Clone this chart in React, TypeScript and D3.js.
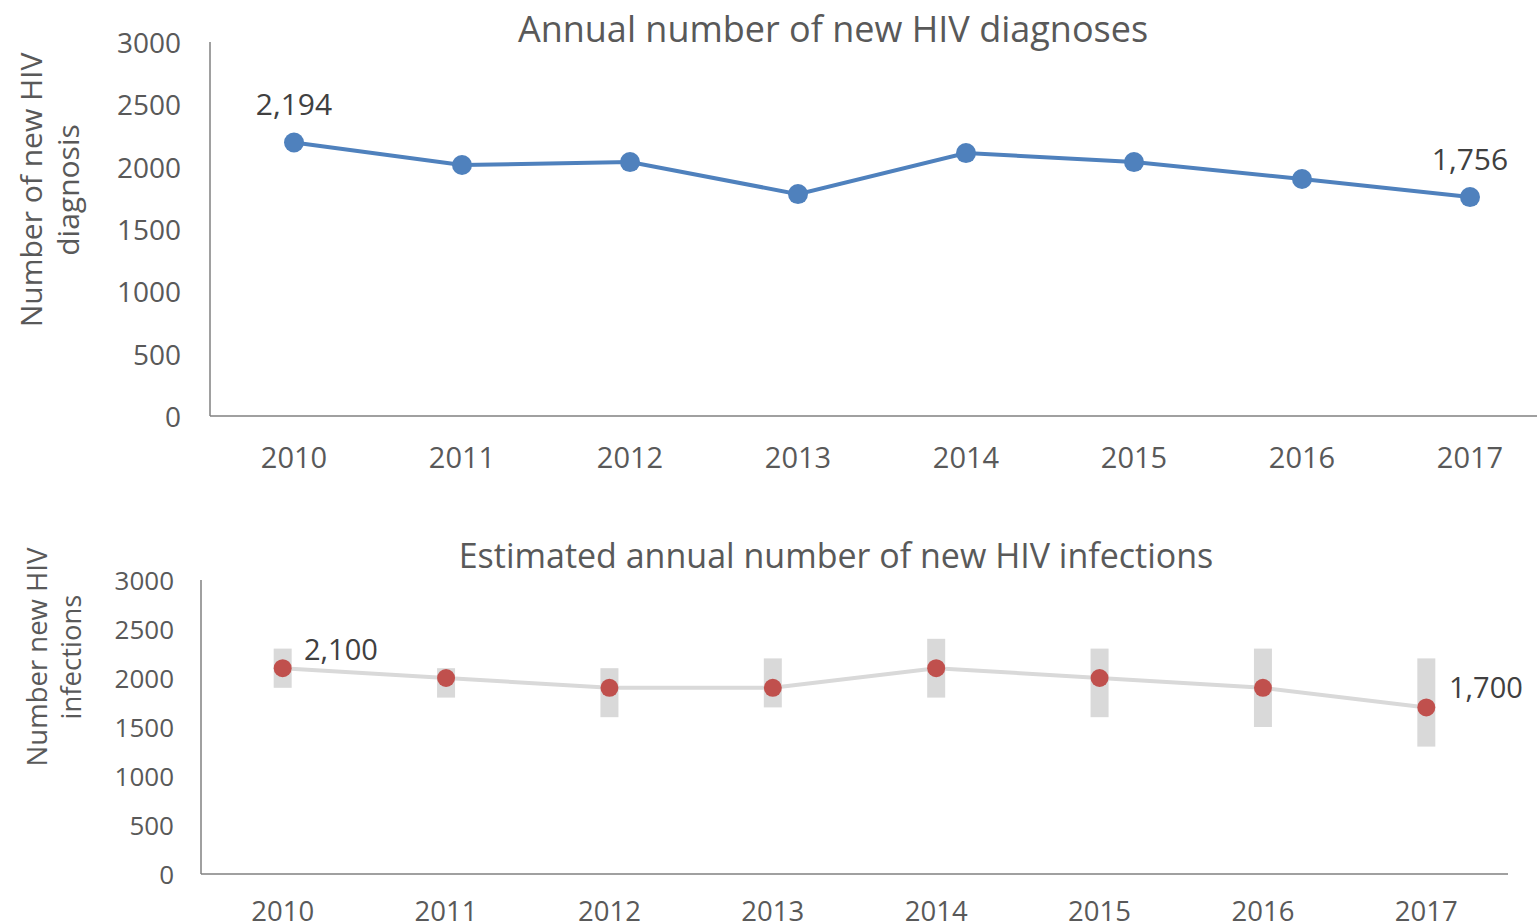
import React from "react";
import * as d3 from "d3";

const years = ["2010", "2011", "2012", "2013", "2014", "2015", "2016", "2017"];
const diagnoses = [2194, 2013, 2037, 1780, 2109, 2037, 1901, 1756];
const infections = [2100, 2000, 1900, 1900, 2100, 2000, 1900, 1700];
const infLow = [1900, 1800, 1600, 1700, 1800, 1600, 1500, 1300];
const infHigh = [2300, 2100, 2100, 2200, 2400, 2300, 2300, 2200];
const yTicks = [0, 500, 1000, 1500, 2000, 2500, 3000];

const FONT = "'Open Sans', 'Noto Sans', sans-serif";
const AXIS = "#595959";
const LABEL = "#404040";

const fmt = d3.format(",");

export default function App() {
  // top chart
  const x1 = d3.scaleBand().domain(years).range([210, 1554]);
  const y1 = d3.scaleLinear().domain([0, 3000]).range([416, 42]);
  const line1 = d3
    .line<number>()
    .x((_, i) => x1(years[i])! + x1.bandwidth() / 2)
    .y((d) => y1(d));

  // bottom chart
  const x2 = d3.scaleBand().domain(years).range([201, 1508]);
  const y2 = d3.scaleLinear().domain([0, 3000]).range([874, 580]);
  const line2 = d3
    .line<number>()
    .x((_, i) => x2(years[i])! + x2.bandwidth() / 2)
    .y((d) => y2(d));

  const cx1 = (i: number) => x1(years[i])! + x1.bandwidth() / 2;
  const cx2 = (i: number) => x2(years[i])! + x2.bandwidth() / 2;

  return (
    <svg
      width={1537}
      height={923}
      style={{ position: "absolute", left: 0, top: 0, background: "#fff" }}
      fontFamily={FONT}
    >
      {/* ===== Top chart ===== */}
      <text x={833} y={28} textAnchor="middle" dominantBaseline="central" fontSize={36} fill={AXIS}>
        Annual number of new HIV diagnoses
      </text>
      <g transform="translate(30,190) rotate(-90)">
        <text textAnchor="middle" dominantBaseline="central" fontSize={30} fill={AXIS}>
          Number of new HIV
        </text>
      </g>
      <g transform="translate(67,190) rotate(-90)">
        <text textAnchor="middle" dominantBaseline="central" fontSize={30} fill={AXIS}>
          diagnosis
        </text>
      </g>
      {yTicks.map((t) => (
        <text key={"t1" + t} x={181} y={y1(t)} textAnchor="end" dominantBaseline="central" fontSize={28} fill={AXIS}>
          {t}
        </text>
      ))}
      <line x1={210} x2={210} y1={42} y2={416} stroke="#808080" strokeWidth={1.5} />
      <line x1={210} x2={1537} y1={416} y2={416} stroke="#808080" strokeWidth={1.5} />
      {years.map((yr, i) => (
        <text key={"x1" + yr} x={cx1(i)} y={456} textAnchor="middle" dominantBaseline="central" fontSize={29} fill={AXIS}>
          {yr}
        </text>
      ))}
      <path d={line1(diagnoses)!} fill="none" stroke="#4F81BD" strokeWidth={4} />
      {diagnoses.map((v, i) => (
        <circle key={"c1" + i} cx={cx1(i)} cy={y1(v)} r={10} fill="#4F81BD" />
      ))}
      <text x={cx1(0)} y={y1(diagnoses[0]) - 39} textAnchor="middle" dominantBaseline="central" fontSize={30} fill={LABEL}>
        {fmt(diagnoses[0])}
      </text>
      <text x={cx1(7)} y={y1(diagnoses[7]) - 39} textAnchor="middle" dominantBaseline="central" fontSize={30} fill={LABEL}>
        {fmt(diagnoses[7])}
      </text>

      {/* ===== Bottom chart ===== */}
      <text x={836} y={555} textAnchor="middle" dominantBaseline="central" fontSize={34} fill={AXIS}>
        Estimated annual number of new HIV infections
      </text>
      <g transform="translate(36,657) rotate(-90)">
        <text textAnchor="middle" dominantBaseline="central" fontSize={27.5} fill={AXIS}>
          Number new HIV
        </text>
      </g>
      <g transform="translate(70,657) rotate(-90)">
        <text textAnchor="middle" dominantBaseline="central" fontSize={27.5} fill={AXIS}>
          infections
        </text>
      </g>
      {yTicks.map((t) => (
        <text key={"t2" + t} x={174} y={y2(t)} textAnchor="end" dominantBaseline="central" fontSize={26} fill={AXIS}>
          {t}
        </text>
      ))}
      <line x1={201} x2={201} y1={580} y2={874} stroke="#808080" strokeWidth={1.5} />
      <line x1={201} x2={1508} y1={874} y2={874} stroke="#808080" strokeWidth={1.5} />
      {years.map((yr, i) => (
        <text key={"x2" + yr} x={cx2(i)} y={910} textAnchor="middle" dominantBaseline="central" fontSize={27.5} fill={AXIS}>
          {yr}
        </text>
      ))}
      {infections.map((_, i) => (
        <rect
          key={"r" + i}
          x={cx2(i) - 9}
          y={y2(infHigh[i])}
          width={18}
          height={y2(infLow[i]) - y2(infHigh[i])}
          fill="#D9D9D9"
        />
      ))}
      <path d={line2(infections)!} fill="none" stroke="#D9D9D9" strokeWidth={4} />
      {infections.map((v, i) => (
        <circle key={"c2" + i} cx={cx2(i)} cy={y2(v)} r={9} fill="#C0504D" />
      ))}
      <text x={304} y={y2(infections[0]) - 20} textAnchor="start" dominantBaseline="central" fontSize={29} fill={LABEL}>
        {fmt(infections[0])}
      </text>
      <text x={1449} y={y2(infections[7]) - 21} textAnchor="start" dominantBaseline="central" fontSize={29} fill={LABEL}>
        {fmt(infections[7])}
      </text>
    </svg>
  );
}
